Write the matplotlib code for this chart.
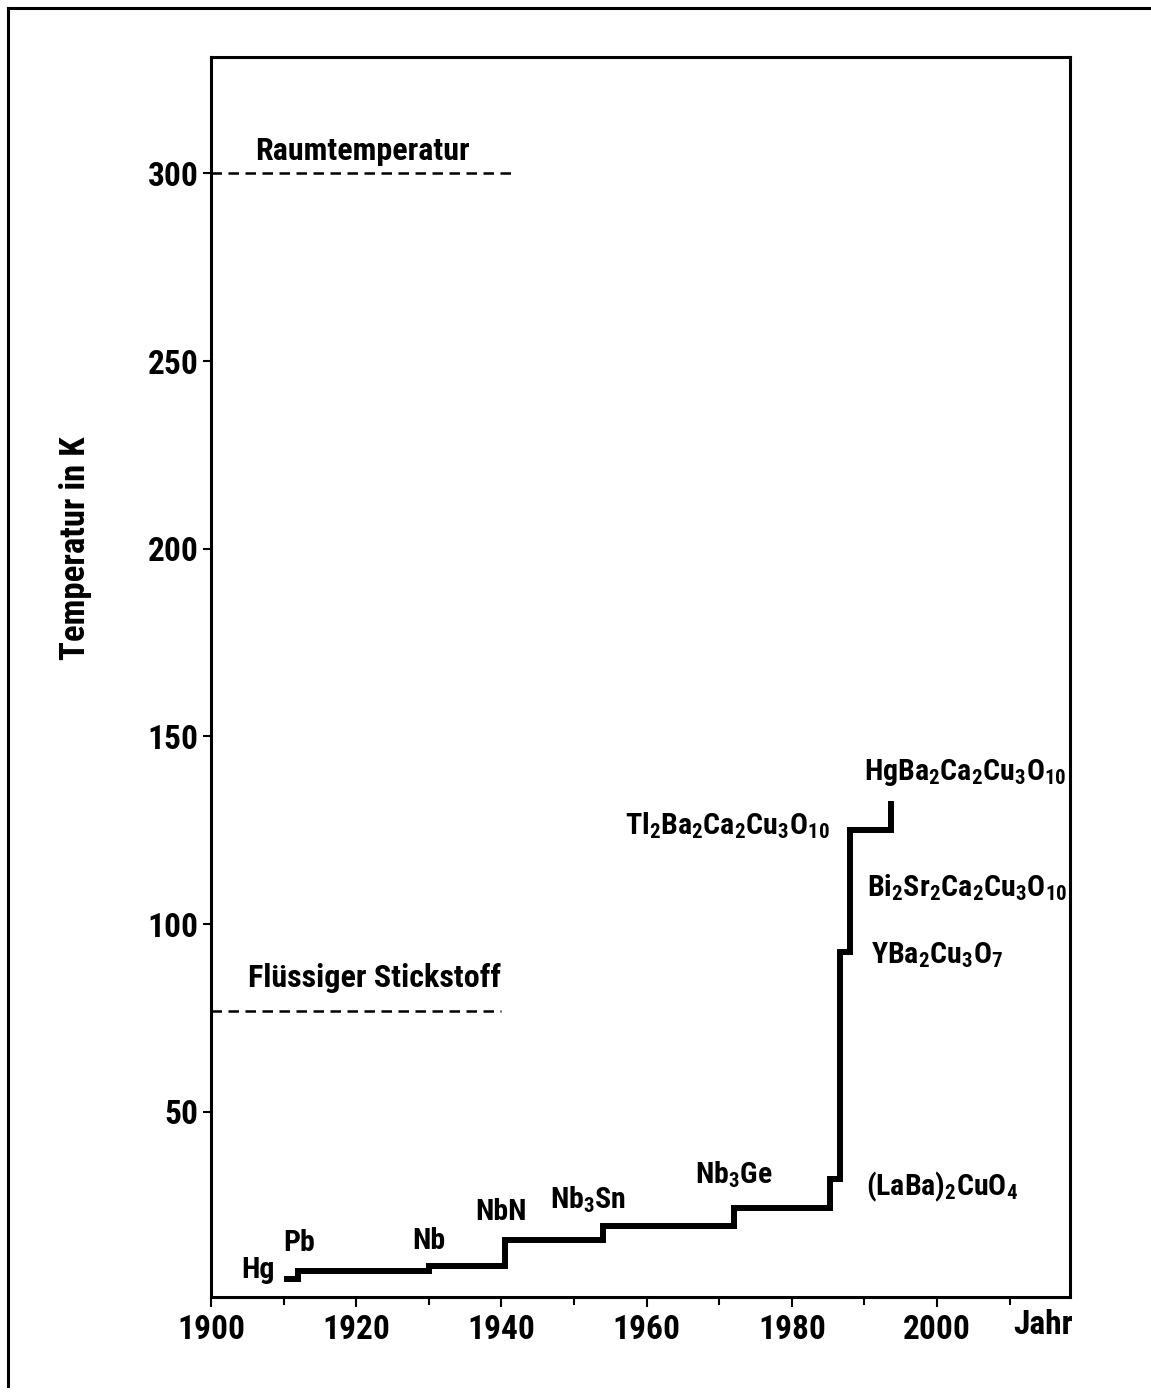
import matplotlib
matplotlib.use("Agg")
import matplotlib.pyplot as plt
from matplotlib import font_manager as fm
from matplotlib.lines import Line2D

# pick a condensed bold sans if one is installed, like the Helvetica Condensed of the original
def pick_condensed():
    narrow = []
    for f in fm.fontManager.ttflist:
        name = f.name
        cond = ('Narrow' in name or 'Condensed' in name or 'Cond' in f.fname
                or f.stretch in ('condensed', 'semi-condensed', 'extra-condensed'))
        try:
            w = int(f.weight)
        except (TypeError, ValueError):
            w = 700 if 'bold' in str(f.weight).lower() else 400
        if cond and 600 <= w <= 800 and f.style == 'normal':
            narrow.append(f)
    order = ['Liberation Sans Narrow', 'Roboto Condensed', 'Open Sans Condensed',
             'Noto Sans', 'DejaVu Sans']
    def rank(f):
        for i, n in enumerate(order):
            if f.name.startswith(n):
                return i
        return len(order)
    narrow.sort(key=rank)
    if narrow:
        return fm.FontProperties(fname=narrow[0].fname)
    return fm.FontProperties(family='DejaVu Sans', weight='bold')

fp = pick_condensed()
plt.rcParams['mathtext.default'] = 'regular'

# record Tc vs year of discovery
years = [1910.5, 1912, 1930, 1940.5, 1954, 1972, 1985.3, 1986.6, 1988, 1993.7]
tc = [5.5, 7.5, 9.0, 16.0, 19.5, 24.5, 32.0, 92.5, 125.0, 132.0]

# reference temperatures (dashed lines)
ref_names = ['Raumtemperatur', 'Flüssiger Stickstoff']
ref_temps = [300, 77]
ref_end = [1941.7, 1940.0]
ref_label_pos = [(1920.8, 306), (1922.5, 85.7)]

# material labels
mat_labels = ['Hg', 'Pb', 'Nb', 'NbN', 'Nb$_3$Sn', 'Nb$_3$Ge', '(LaBa)$_2$CuO$_4$',
              'YBa$_2$Cu$_3$O$_7$', 'Bi$_2$Sr$_2$Ca$_2$Cu$_3$O$_{10}$',
              'Tl$_2$Ba$_2$Ca$_2$Cu$_3$O$_{10}$', 'HgBa$_2$Ca$_2$Cu$_3$O$_{10}$']
mat_x = [1906.5, 1912.2, 1930, 1940, 1952, 1972, 1990.2, 1990.9, 1990.3, 1985.2, 1990.0]
mat_y = [8, 15.2, 15.7, 23.4, 26.6, 33.3, 30, 91.8, 109.7, 126.2, 140.3]
mat_ha = ['center'] * 6 + ['left', 'left', 'left', 'right', 'left']

xticks = [1900, 1920, 1940, 1960, 1980, 2000]
yticks = [50, 100, 150, 200, 250, 300]

fig = plt.figure(figsize=(11.51, 13.94), dpi=100)
ax = fig.add_axes([0.1833, 0.0696, 0.9296 - 0.1833, 0.9591 - 0.0696])

ax.step(years, tc, where='post', color='black', lw=4.3, solid_joinstyle='miter')

for name, t, xe, (lx, ly) in zip(ref_names, ref_temps, ref_end, ref_label_pos):
    ax.plot([1900, xe], [t, t], color='black', lw=1.8, dashes=(4.2, 2.6))
    ax.text(lx, ly, name, ha='center', va='center', fontproperties=fp, fontsize=23)

for s, x, y, ha in zip(mat_labels, mat_x, mat_y, mat_ha):
    ax.text(x, y, s, ha=ha, va='center', fontproperties=fp, fontsize=21.5)

ax.set_xlim(1900, 2018.3)
ax.set_ylim(0.7, 331)
ax.set_xticks(xticks)
ax.set_xticks(range(1910, 2011, 20), minor=True)
ax.set_yticks(yticks)
ax.tick_params(axis='both', which='both', direction='out', width=1.5)
ax.tick_params(axis='x', which='major', length=7, pad=5)
ax.tick_params(axis='x', which='minor', length=6)
ax.tick_params(axis='y', length=6, pad=3)
for lab in ax.get_xticklabels() + ax.get_yticklabels():
    lab.set_fontproperties(fp)
    lab.set_fontsize(24)
for sp in ax.spines.values():
    sp.set_linewidth(2.2)

fig.text(1043 / 1151, 1 - 1325 / 1394, 'Jahr', ha='center', va='center',
         fontproperties=fp, fontsize=24)
fig.text(75 / 1151, 1 - 548 / 1394, 'Temperatur in K', rotation=90, ha='center',
         va='center', fontproperties=fp, fontsize=25)

# outer frame (left and top edges)
fig.add_artist(Line2D([8 / 1151, 8 / 1151], [1 - 1386 / 1394, 1 - 8 / 1394],
                      transform=fig.transFigure, color='black', lw=2.2))
fig.add_artist(Line2D([8 / 1151, 1.0], [1 - 8 / 1394, 1 - 8 / 1394],
                      transform=fig.transFigure, color='black', lw=2.2))

fig.savefig('out.png', dpi=100)
